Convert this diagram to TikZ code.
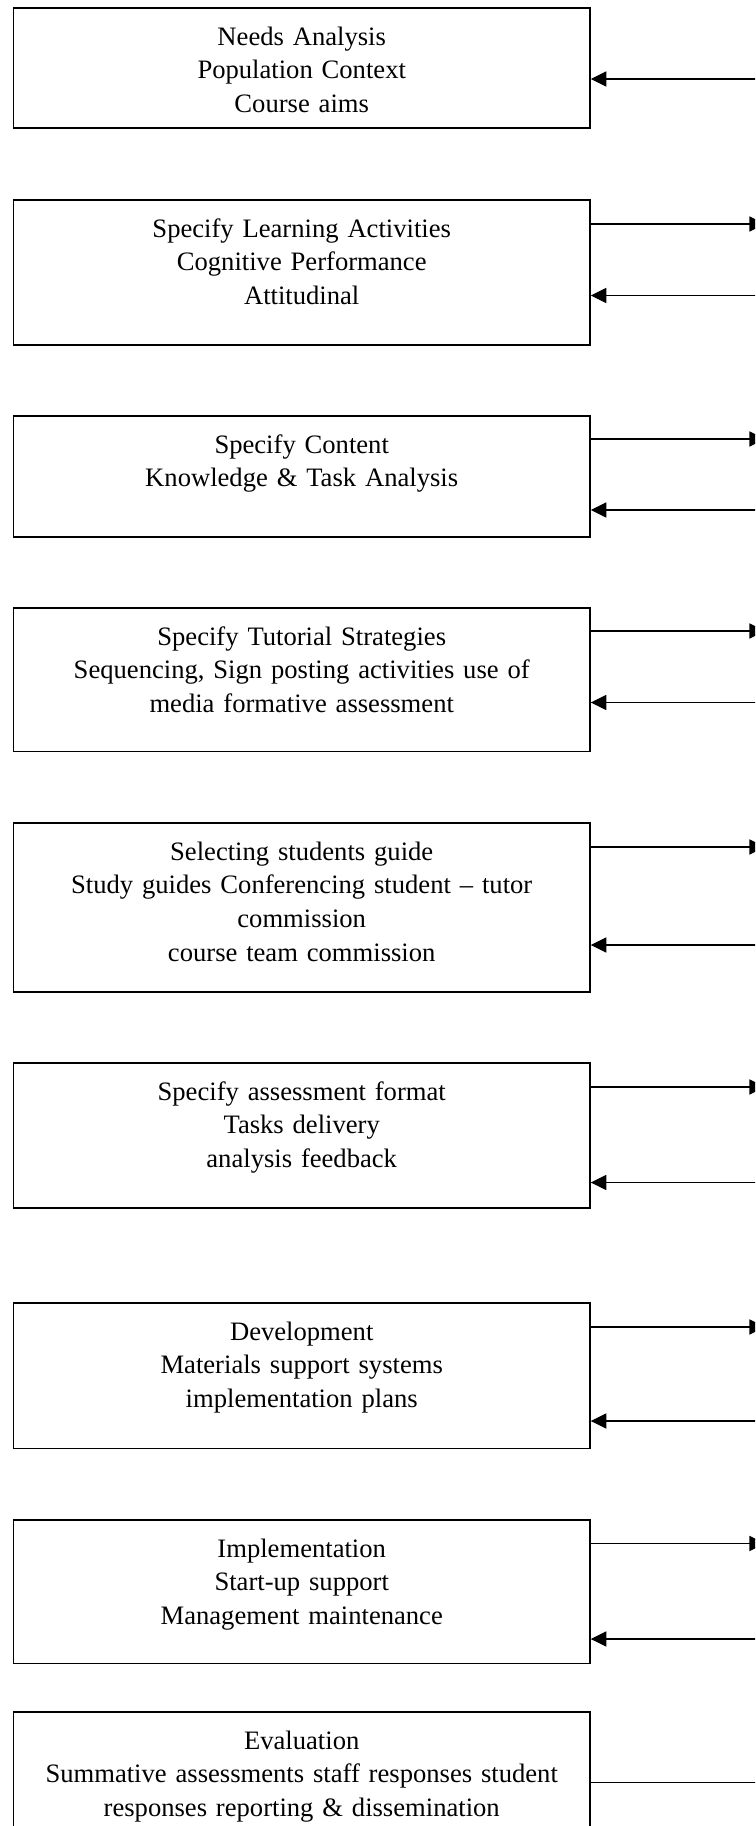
\documentclass[tikz,border=0pt]{standalone}
\usepackage{fontspec}
\setmainfont{Liberation Serif}
\usetikzlibrary{arrows.meta}
\tikzset{%
    stage/.style={%
        draw, line width=0.7pt, inner sep=0pt, anchor=north west,
        text width=260pt, align=center, text height=16.8pt,
        font=\fontsize{12}{15.2}\selectfont
    }
}

\begin{document}
\begin{tikzpicture}[x=0.451pt,y=-0.451pt,line width=0.5pt,>={Triangle[length=7pt,width=6.8pt]}]
    \clip (0,0) rectangle (755,1826);
    \node[stage,text depth=37.3pt] (needs) at (12.7,7) {Needs Analysis\\Population Context\\Course aims};
    \node[stage,text depth=48.6pt] (learn) at (12.7,199) {Specify Learning Activities\\Cognitive Performance\\Attitudinal};
    \node[stage,text depth=37.8pt] (content) at (12.7,415) {Specify Content\\Knowledge \& Task Analysis};
    \node[stage,text depth=48.1pt] (tutorial) at (12.7,607) {Specify Tutorial Strategies\\Sequencing, Sign posting activities use of\\media formative assessment};
    \node[stage,text depth=59.4pt] (guide) at (12.7,822) {Selecting students guide\\Study guides Conferencing student -- tutor\\commission\\course team commission};
    \node[stage,text depth=48.6pt] (assess) at (12.7,1062) {Specify assessment format\\Tasks delivery\\analysis feedback};
    \node[stage,text depth=49pt] (develop) at (12.7,1302) {Development\\Materials support systems\\implementation plans};
    \node[stage,text depth=48.1pt] (implement) at (12.7,1519) {Implementation\\Start-up support\\Management maintenance};
    \node[stage,text depth=39.6pt] (evaluate) at (12.7,1711) {Evaluation\\Summative assessments staff responses student\\responses reporting \& dissemination};

    % arrows running off the right edge
    \coordinate (needsin) at (765,79);
    \coordinate (learnout) at (765,224);
    \coordinate (learnin) at (765,295.5);
    \coordinate (contentout) at (765,439);
    \coordinate (contentin) at (765,510);
    \coordinate (tutorialout) at (765,631);
    \coordinate (tutorialin) at (765,702.5);
    \coordinate (guideout) at (765,847);
    \coordinate (guidein) at (765,945);
    \coordinate (assessout) at (765,1087);
    \coordinate (assessin) at (765,1182.5);
    \coordinate (developout) at (765,1327);
    \coordinate (developin) at (765,1421);
    \coordinate (implementout) at (765,1543.5);
    \coordinate (implementin) at (765,1639);
    \coordinate (evaluateout) at (765,1782.5);

    \draw[<-] (needsin -| needs.east) -- (needsin);
    \draw[->] (learnout -| learn.east) -- (learnout);
    \draw[<-] (learnin -| learn.east) -- (learnin);
    \draw[->] (contentout -| content.east) -- (contentout);
    \draw[<-] (contentin -| content.east) -- (contentin);
    \draw[->] (tutorialout -| tutorial.east) -- (tutorialout);
    \draw[<-] (tutorialin -| tutorial.east) -- (tutorialin);
    \draw[->] (guideout -| guide.east) -- (guideout);
    \draw[<-] (guidein -| guide.east) -- (guidein);
    \draw[->] (assessout -| assess.east) -- (assessout);
    \draw[<-] (assessin -| assess.east) -- (assessin);
    \draw[->] (developout -| develop.east) -- (developout);
    \draw[<-] (developin -| develop.east) -- (developin);
    \draw[->] (implementout -| implement.east) -- (implementout);
    \draw[<-] (implementin -| implement.east) -- (implementin);
    \draw (evaluateout -| evaluate.east) -- (evaluateout);
\end{tikzpicture}
\end{document}
